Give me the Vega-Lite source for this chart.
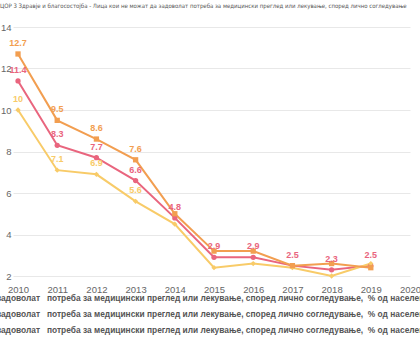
{
  "$schema": "https://vega.github.io/schema/vega-lite/v6.json",
  "autosize": {"type": "none"},
  "padding": {"left": 13, "top": 27, "right": 10, "bottom": 74},
  "width": 397,
  "height": 249,
  "background": "#ffffff",
  "title": {
    "text": "ЦОР 3 Здравје и благосостојба - Лица кои не можат да задоволат потреба за медицински преглед или лекување, според лично согледување",
    "anchor": "start",
    "frame": "group",
    "font": "Liberation Sans Narrow, DejaVu Sans Condensed, sans-serif",
    "fontSize": 6.0,
    "fontWeight": "normal",
    "color": "#555555",
    "dx": -13,
    "offset": 13
  },
  "config": {
    "view": {"stroke": null},
    "axis": {"labelFont": "Liberation Sans, Arial, sans-serif", "labelColor": "#666666", "labelFontSize": 9.5}
  },
  "data": {
    "values": [
      {"year": 2010, "s": "Вкупно", "v": 11.4},
      {"year": 2011, "s": "Вкупно", "v": 8.3},
      {"year": 2012, "s": "Вкупно", "v": 7.7},
      {"year": 2013, "s": "Вкупно", "v": 6.6},
      {"year": 2014, "s": "Вкупно", "v": 4.8},
      {"year": 2015, "s": "Вкупно", "v": 2.9},
      {"year": 2016, "s": "Вкупно", "v": 2.9},
      {"year": 2017, "s": "Вкупно", "v": 2.5},
      {"year": 2018, "s": "Вкупно", "v": 2.3},
      {"year": 2019, "s": "Вкупно", "v": 2.5},
      {"year": 2010, "s": "Мажи", "v": 10},
      {"year": 2011, "s": "Мажи", "v": 7.1},
      {"year": 2012, "s": "Мажи", "v": 6.9},
      {"year": 2013, "s": "Мажи", "v": 5.6},
      {"year": 2014, "s": "Мажи", "v": 4.5},
      {"year": 2015, "s": "Мажи", "v": 2.4},
      {"year": 2016, "s": "Мажи", "v": 2.6},
      {"year": 2017, "s": "Мажи", "v": 2.4},
      {"year": 2018, "s": "Мажи", "v": 2.0},
      {"year": 2019, "s": "Мажи", "v": 2.6},
      {"year": 2010, "s": "Жени", "v": 12.7},
      {"year": 2011, "s": "Жени", "v": 9.5},
      {"year": 2012, "s": "Жени", "v": 8.6},
      {"year": 2013, "s": "Жени", "v": 7.6},
      {"year": 2014, "s": "Жени", "v": 5.0},
      {"year": 2015, "s": "Жени", "v": 3.2},
      {"year": 2016, "s": "Жени", "v": 3.2},
      {"year": 2017, "s": "Жени", "v": 2.5},
      {"year": 2018, "s": "Жени", "v": 2.6},
      {"year": 2019, "s": "Жени", "v": 2.4}
    ]
  },
  "encoding": {
    "x": {
      "field": "year", "type": "quantitative",
      "scale": {"domain": [2009.872, 2020], "nice": false, "zero": false},
      "axis": {"title": null, "values": [2010,2011,2012,2013,2014,2015,2016,2017,2018,2019,2020], "format": "d", "grid": false, "domain": false, "ticks": false, "labelPadding": 8, "labelFlush": false, "labelOverlap": false}
    },
    "y": {
      "field": "v", "type": "quantitative",
      "scale": {"domain": [2, 14], "nice": false, "zero": false},
      "axis": {"title": null, "values": [2,4,6,8,10,12,14], "domain": false, "ticks": false, "labelPadding": 2, "gridColor": "#e8e8e8", "gridWidth": 1}
    },
    "color": {
      "field": "s", "type": "nominal",
      "scale": {"domain": ["Вкупно", "Мажи", "Жени"], "range": ["#E9657E", "#F8CB68", "#F29E50"]},
      "legend": {
        "title": null,
        "orient": "none",
        "direction": "vertical",
        "legendX": -121,
        "legendY": 267,
        "labelExpr": "'Лица кои не можат да задоволат\u00a0\u00a0 потреба за медицински преглед или лекување, според лично согледување,\u00a0 % од населението - ' + datum.label",
        "labelFont": "Liberation Sans, Arial, sans-serif",
        "labelFontSize": 8.4,
        "labelFontWeight": "bold",
        "labelColor": "#555555",
        "labelLimit": 2000,
        "rowPadding": 3,
        "symbolSize": 40
      }
    }
  },
  "layer": [
    {"mark": {"type": "line", "strokeWidth": 2}},
    {
      "mark": {"type": "point", "filled": true, "size": 28, "opacity": 1},
      "encoding": {
        "shape": {"field": "s", "type": "nominal", "scale": {"domain": ["Вкупно", "Мажи", "Жени"], "range": ["circle", "diamond", "square"]}, "legend": null}
      }
    },
    {
      "transform": [{"filter": "datum.year <= 2013 || datum.s == 'Вкупно'"}],
      "mark": {"type": "text", "dy": -11, "fontSize": 9, "fontWeight": "bold", "font": "Liberation Sans, Arial, sans-serif"},
      "encoding": {"text": {"field": "v", "type": "quantitative"}}
    }
  ]
}
